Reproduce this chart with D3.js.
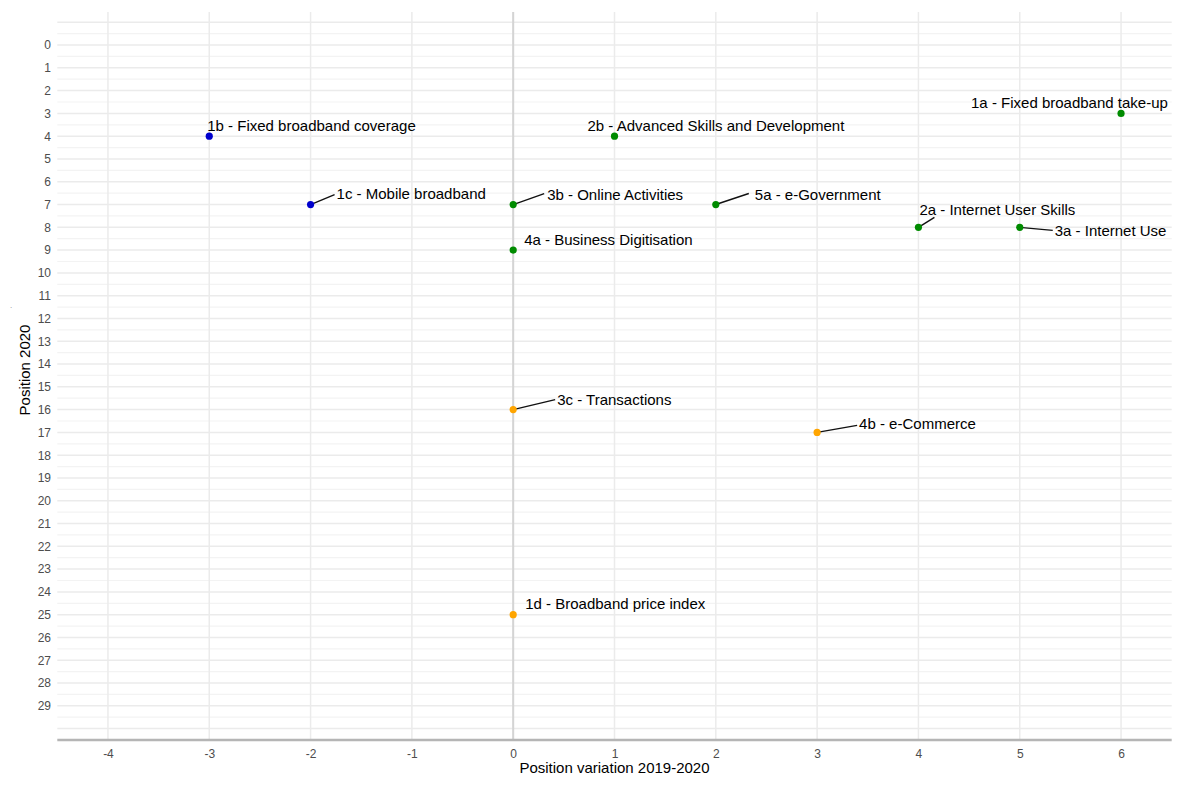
<!DOCTYPE html>
<html>
<head>
<meta charset="utf-8">
<script src="https://cdn.jsdelivr.net/npm/d3@7"></script>
<style>
  body { margin: 0; background: #fff; }
  text { font-family: "Liberation Sans", Arial, sans-serif; }
</style>
</head>
<body>
<div id="chart"></div>
<script>
// Data
const labels = [
    "1a - Fixed broadband take-up", "1b - Fixed broadband coverage", "1c - Mobile broadband",
    "2b - Advanced Skills and Development", "3b - Online Activities", "5a - e-Government",
    "2a - Internet User Skills", "3a - Internet Use", "4a - Business Digitisation",
    "3c - Transactions", "4b - e-Commerce", "1d - Broadband price index"
];
const variation = [6, -3, -2, 1, 0, 2, 4, 5, 0, 0, 3, 0];
const position2020 = [3, 4, 7, 4, 7, 7, 8, 8, 9, 16, 17, 25];
const group = ["up", "down", "down", "up", "up", "up", "up", "up", "up", "same", "same", "same"];
const yTicks = d3.range(0, 30);
const xTicks = d3.range(-4, 7);

// Label placement (pixel offsets from the point, like ggrepel output)
const labelOffsets = [
    [-150, -5], [-2, -5], [26, -6], [-27, -5], [34, -5], [39, -5],
    [1, -12], [35, 9], [11, -5], [44, -5], [42, -3], [12, -6]
];
const segmentEnds = [
    null, null, [24, -10], null, [31, -11], [33, -11],
    [16, -10], [33, 3], null, [42, -10], [40, -7], null
];

const width = 1196;
const height = 793;
const colorScale = d3.scaleOrdinal()
    .domain(["down", "up", "same"])
    .range(["#0000CD", "#008B00", "#FFA500"]);

const x = d3.scaleLinear().domain([-4.5, 6.5]).range([57.3, 1171.7]);
const y = d3.scaleLinear().domain([-1.45, 30.5]).range([12, 740]);

const svg = d3.select("#chart")
    .append("svg")
    .attr("width", width)
    .attr("height", height);

// Grid
const grid = svg.append("g");
grid.selectAll(".hminor")
    .data(d3.range(-0.5, 30, 1))
    .enter().append("line")
    .attr("x1", x.range()[0]).attr("x2", x.range()[1])
    .attr("y1", d => y(d)).attr("y2", d => y(d))
    .attr("stroke", "#f3f3f3").attr("stroke-width", 1.2);

grid.selectAll(".hmajor")
    .data(d3.range(-1, 31))
    .enter().append("line")
    .attr("x1", x.range()[0]).attr("x2", x.range()[1])
    .attr("y1", d => y(d)).attr("y2", d => y(d))
    .attr("stroke", "#ebebeb").attr("stroke-width", 1.5);

grid.selectAll(".vmajor")
    .data(xTicks)
    .enter().append("line")
    .attr("x1", d => x(d)).attr("x2", d => x(d))
    .attr("y1", y.range()[0]).attr("y2", y.range()[1])
    .attr("stroke", "#ebebeb").attr("stroke-width", 1.5);

// Zero line
svg.append("line")
    .attr("x1", x(0)).attr("x2", x(0))
    .attr("y1", y.range()[0]).attr("y2", y.range()[1])
    .attr("stroke", "#d4d4d4").attr("stroke-width", 2);

// Bottom axis line
svg.append("line")
    .attr("x1", x.range()[0]).attr("x2", x.range()[1])
    .attr("y1", 740).attr("y2", 740)
    .attr("stroke", "#b5b5b5").attr("stroke-width", 2.5);

// Axes
const xAxis = svg.append("g")
    .attr("transform", "translate(0,741)")
    .call(d3.axisBottom(x).tickValues(xTicks).tickSize(0).tickPadding(8).tickFormat(d => String(d)));
xAxis.select(".domain").remove();
xAxis.selectAll("text")
    .attr("fill", "#4d4d4d")
    .style("font-size", "12px")
    .style("font-family", "Liberation Sans, Arial, sans-serif");

const yAxis = svg.append("g")
    .attr("transform", "translate(51,0)")
    .call(d3.axisLeft(y).tickValues(yTicks).tickSize(0).tickPadding(0).tickFormat(d => String(d)));
yAxis.select(".domain").remove();
yAxis.selectAll("text")
    .attr("fill", "#4d4d4d")
    .style("font-size", "12px")
    .style("font-family", "Liberation Sans, Arial, sans-serif");

// Axis titles
svg.append("text")
    .attr("x", (x.range()[0] + x.range()[1]) / 2)
    .attr("y", 773)
    .attr("text-anchor", "middle")
    .style("font-size", "15px")
    .text("Position variation 2019-2020");

svg.append("text")
    .attr("transform", "translate(30,370) rotate(-90)")
    .attr("text-anchor", "middle")
    .style("font-size", "15px")
    .text("Position 2020");

svg.append("text")
    .attr("x", 10).attr("y", 308)
    .attr("fill", "#888")
    .style("font-size", "8px")
    .text(".");

// Points and labels
const points = labels.map((label, i) => ({
    label,
    x: variation[i],
    y: position2020[i],
    group: group[i],
    off: labelOffsets[i],
    seg: segmentEnds[i]
}));

svg.selectAll(".seg")
    .data(points.filter(d => d.seg))
    .enter().append("line")
    .attr("x1", d => x(d.x)).attr("y1", d => y(d.y))
    .attr("x2", d => x(d.x) + d.seg[0]).attr("y2", d => y(d.y) + d.seg[1])
    .attr("stroke", "#111").attr("stroke-width", 1.4);

svg.selectAll(".dot")
    .data(points)
    .enter().append("circle")
    .attr("cx", d => x(d.x))
    .attr("cy", d => y(d.y))
    .attr("r", 3.6)
    .style("fill", d => colorScale(d.group));

svg.selectAll(".lbl")
    .data(points)
    .enter().append("text")
    .attr("x", d => x(d.x) + d.off[0])
    .attr("y", d => y(d.y) + d.off[1])
    .attr("fill", "#000")
    .style("font-size", "15px")
    .text(d => d.label);
</script>
</body>
</html>
